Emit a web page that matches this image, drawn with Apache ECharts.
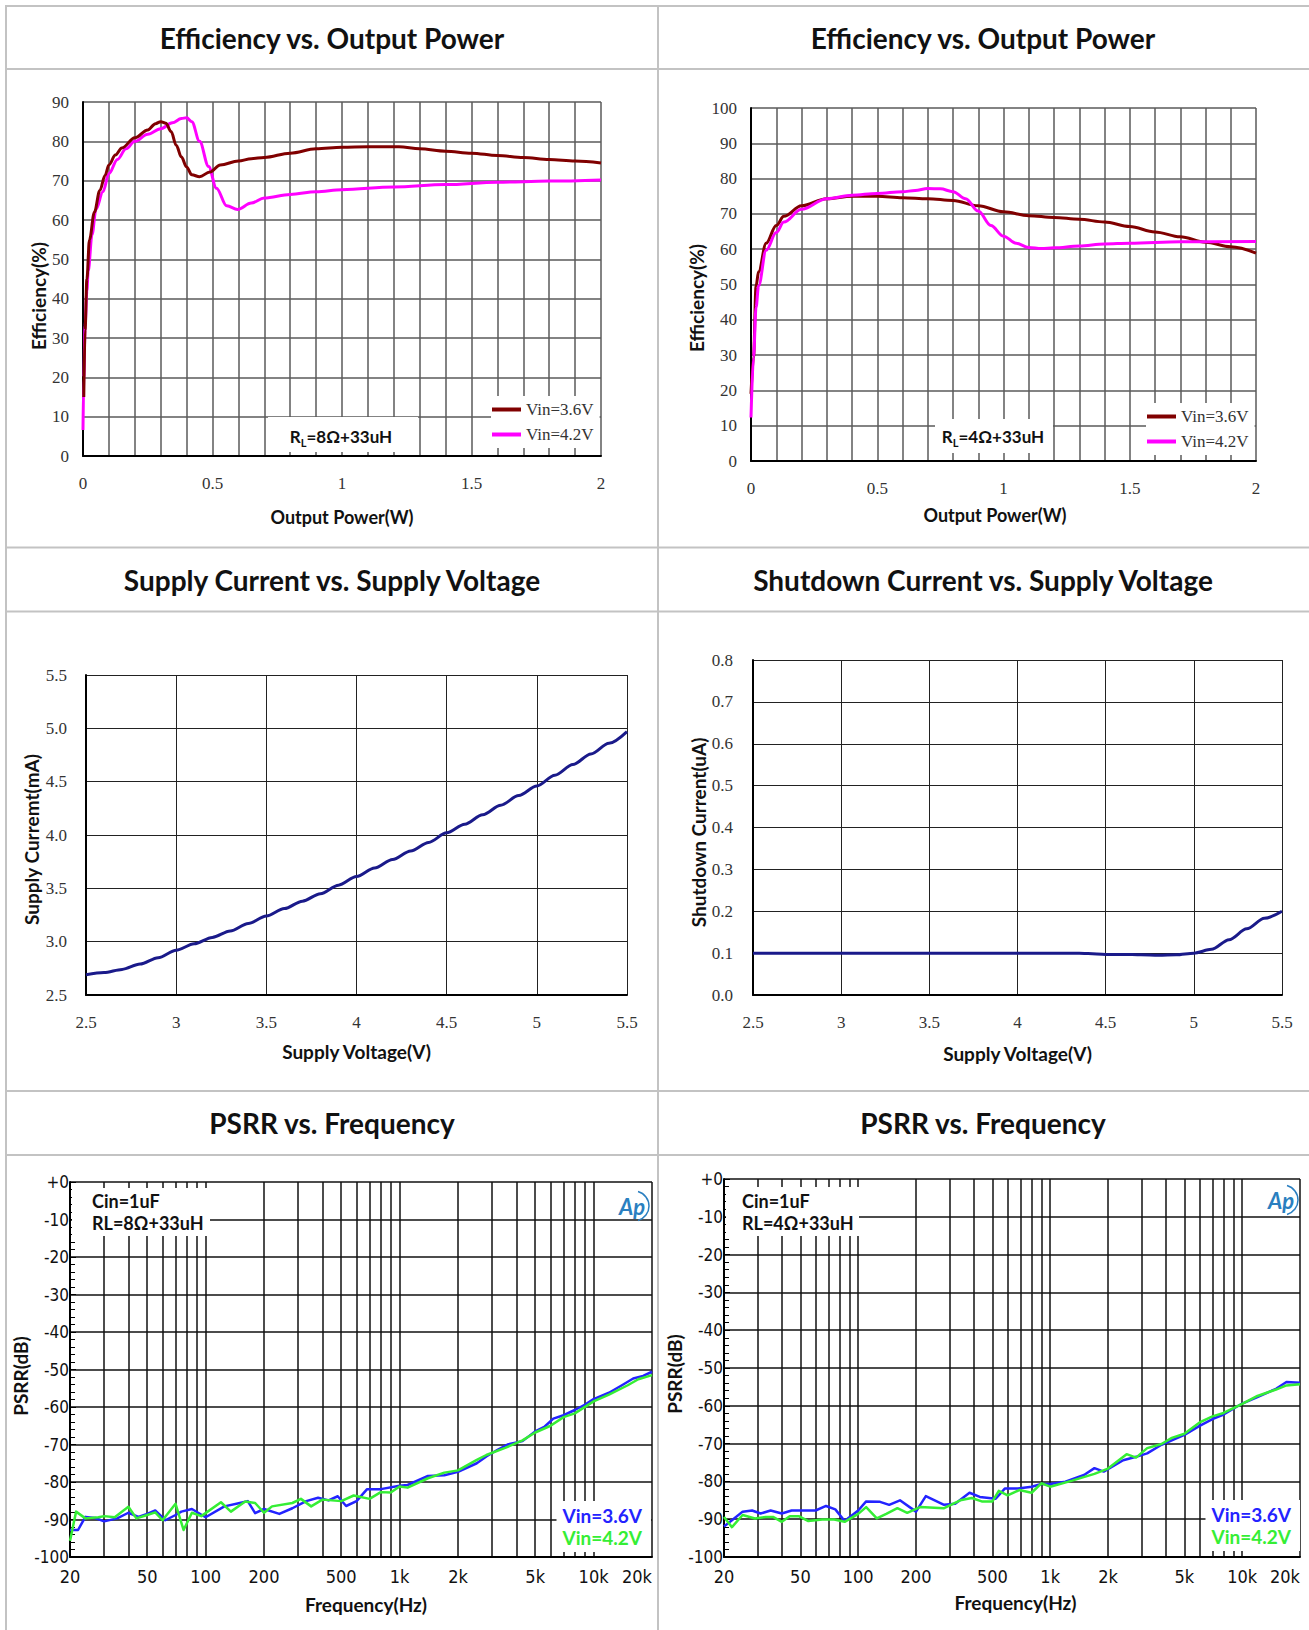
<!DOCTYPE html>
<html><head><meta charset="utf-8">
<script src="https://cdn.jsdelivr.net/npm/echarts@6/dist/echarts.min.js"></script>
<style>html,body{margin:0;padding:0;background:#fff;}#c{width:1309px;height:1630px;}</style>
</head><body><div id="c"></div>
<script>
// ---------- DATA ----------
// Efficiency vs Output Power, RL = 8ohm + 33uH
const eff8Power36 = [0.003,0.008,0.015,0.025,0.044,0.065,0.085,0.1,0.125,0.15,0.2,0.25,0.28,0.3,0.32,0.34,0.36,0.38,0.4,0.42,0.45,0.49,0.53,0.6,0.65,0.7,0.8,0.9,1.0,1.1,1.22,1.3,1.4,1.5,1.6,1.7,1.8,1.9,2.0];
const eff8Vin36   = [15,32,45,55,62,67.5,71.3,74,76.5,78.3,80.9,82.9,84.5,85.0,84.6,82.5,79,76,73.5,71.5,71.0,72.2,74.0,75.0,75.6,75.9,77.0,78.1,78.5,78.6,78.6,78.1,77.5,77.0,76.4,75.9,75.4,75.0,74.5];
const eff8Power42 = [0.0,0.003,0.008,0.015,0.02,0.035,0.05,0.077,0.1,0.133,0.166,0.2,0.25,0.3,0.345,0.38,0.4,0.42,0.45,0.485,0.515,0.555,0.597,0.65,0.7,0.8,0.9,1.0,1.2,1.4,1.6,1.8,2.0];
const eff8Vin42   = [6.6,20,33,42,47,56.3,62.7,67.2,71.8,75.4,78.1,80.0,81.8,83.2,84.7,85.8,86.0,85.0,80.0,73.6,68.1,63.6,62.7,64.3,65.6,66.5,67.2,67.7,68.4,69.0,69.6,69.9,70.2];
// Efficiency vs Output Power, RL = 4ohm + 33uH
const eff4Power36 = [0.0,0.01,0.02,0.03,0.06,0.1,0.13,0.2,0.3,0.4,0.5,0.6,0.7,0.8,0.9,1.0,1.1,1.2,1.3,1.4,1.5,1.6,1.7,1.8,1.9,2.0];
const eff4Vin36   = [19,29.4,49.6,53.6,61.7,66.7,69.3,72.3,74.3,75.0,75.0,74.6,74.3,73.8,72.3,70.6,69.5,69.0,68.5,67.7,66.4,64.9,63.5,62.0,60.7,58.9];
const eff4Power42 = [0.0,0.01,0.02,0.03,0.06,0.1,0.13,0.2,0.3,0.4,0.5,0.6,0.65,0.7,0.75,0.8,0.85,0.9,0.95,1.0,1.05,1.1,1.15,1.2,1.3,1.4,1.5,1.7,2.0];
const eff4Vin42   = [12.3,29.4,43.5,49.6,59.7,64.7,67.7,71.3,74.3,75.3,75.8,76.3,76.6,77.2,77.1,76.3,74.3,70.8,66.7,63.7,61.7,60.5,60.2,60.4,60.9,61.5,61.7,62.1,62.2];
// Supply current vs supply voltage
const supplyVoltage = [2.5,2.6,2.7,2.8,2.9,3.0,3.1,3.2,3.3,3.4,3.5,3.6,3.7,3.8,3.9,4.0,4.1,4.2,4.3,4.4,4.5,4.6,4.7,4.8,4.9,5.0,5.1,5.2,5.3,5.4,5.5];
const supplyCurrent = [2.69,2.71,2.74,2.79,2.85,2.92,2.98,3.04,3.10,3.17,3.24,3.31,3.38,3.45,3.53,3.61,3.69,3.77,3.85,3.93,4.02,4.10,4.19,4.28,4.37,4.46,4.56,4.66,4.76,4.86,4.97];
// Shutdown current vs supply voltage
const shutdownVoltage = [2.5,3.0,3.5,4.0,4.2,4.3,4.4,4.5,4.6,4.7,4.8,4.9,5.0,5.1,5.2,5.3,5.4,5.5];
const shutdownCurrent = [0.1,0.1,0.1,0.1,0.1,0.1,0.099,0.097,0.097,0.096,0.095,0.096,0.1,0.109,0.132,0.158,0.183,0.2];
// PSRR vs frequency, RL = 8ohm + 33uH
const psrr8FreqA = [20,22,24,27,30,35,40,45,50,55,62,70,75,85,100,125,150,165,180,200,240,280,330,380,430,480,530,600,680,800,1000,1100,1400,1700,2000,2500,2800,3200,3600,4300,5000,5600,6200,7000,8000,9000,10000,12000,14000,16000,18000,20000];
const psrr8Vin36 = [-92.8,-92.8,-89.3,-89.6,-90.5,-89.7,-88.2,-89.3,-88.5,-87.6,-90.2,-88.8,-87.9,-87.2,-89.4,-86.5,-85.6,-85.1,-88.3,-87.2,-88.5,-87.0,-85.1,-84.2,-84.9,-83.8,-86.4,-85.1,-81.9,-81.9,-81.0,-80.8,-78.4,-78.2,-77.3,-75.0,-73.2,-71.4,-70.0,-69.1,-66.5,-65.2,-63.1,-62.2,-60.8,-59.4,-57.9,-56.2,-54.2,-52.4,-51.7,-50.6];
const psrr8FreqB = [20,21.5,24,28,30,34,40,44,50,55,60,70,77,85,95,120,135,160,180,200,220,280,310,350,400,500,580,700,800,900,1000,1100,1400,1700,2000,2500,2800,3500,4300,5000,6000,7000,8000,10000,12000,15000,17000,20000];
const psrr8Vin42 = [-95.7,-87.9,-89.7,-89.4,-89.1,-89.4,-86.6,-89.7,-88.8,-88.1,-90.2,-85.8,-92.8,-88.2,-89.1,-85.4,-87.9,-85.2,-85.6,-88.2,-86.5,-85.6,-84.5,-86.5,-84.7,-85.1,-83.6,-84.5,-82.7,-82.8,-81.2,-81.5,-79.0,-77.5,-76.9,-74.1,-72.8,-70.9,-68.9,-66.8,-65.0,-62.7,-61.7,-58.5,-56.7,-54.2,-52.6,-51.5];
// PSRR vs frequency, RL = 4ohm + 33uH
const psrr4FreqA = [20,22,25,28,31,35,40,45,60,68,76,85,100,110,130,145,165,200,225,280,320,380,430,520,580,680,800,900,1000,1200,1500,1700,1900,2400,2800,3200,3800,5000,6000,7000,8000,10000,12000,15000,17000,20000];
const psrr4Vin36 = [-91.9,-90.3,-88.0,-87.7,-88.5,-87.7,-88.5,-87.7,-87.7,-86.5,-87.4,-90.5,-87.7,-85.3,-85.4,-86.2,-85.0,-88.0,-83.9,-86.2,-85.9,-83.0,-84.1,-84.6,-81.9,-81.9,-81.4,-80.7,-80.7,-80.1,-78.3,-76.5,-77.4,-74.4,-73.5,-72.6,-70.3,-67.7,-65.3,-63.5,-62.3,-59.4,-57.7,-55.5,-53.7,-53.9];
const psrr4FreqB = [20,22,25,29,33,36,40,44,49,55,65,75,85,100,110,125,140,160,180,210,280,340,390,440,500,540,600,690,800,900,1000,1300,1700,2000,2500,2800,3200,3800,4300,5000,6000,7000,8000,10000,12000,15000,17000,20000];
const psrr4Vin42 = [-89.4,-92.1,-88.9,-89.8,-89.4,-89.4,-90.7,-89.2,-89.2,-90.5,-90.1,-90.1,-90.7,-88.6,-86.8,-89.8,-88.6,-87.1,-88.3,-86.8,-87.1,-85.0,-84.4,-85.3,-85.3,-82.5,-83.7,-82.3,-83.0,-80.5,-81.4,-79.8,-78.0,-76.6,-72.8,-73.7,-71.2,-70.1,-68.5,-67.4,-64.4,-62.8,-61.9,-59.5,-57.4,-55.7,-54.6,-54.3];
// Tick values
const psrrFreqLabels = [20,50,100,200,500,1000,2000,5000,10000,20000];
const psrrFreqGrid = [20,30,40,50,60,70,80,90,100,200,300,400,500,600,700,800,900,1000,2000,3000,4000,5000,6000,7000,8000,9000,10000,20000];
const chartTitles = ['Efficiency vs. Output Power','Efficiency vs. Output Power','Supply Current vs. Supply Voltage','Shutdown Current vs. Supply Voltage','PSRR vs. Frequency','PSRR vs. Frequency'];

// ---------- STYLE ----------
const SANS = 'Lato, "Open Sans", "DejaVu Sans", sans-serif';
const SERIF = '"Liberation Serif", "Times New Roman", serif';
const NARROW = '"Liberation Sans Narrow", "DejaVu Sans Condensed", "Liberation Sans", sans-serif';
const zip = (xs, ys) => xs.map((x, i) => [x, ys[i]]);
const nameStyle = (size, pad) => ({fontFamily: SANS, fontWeight: 'bold', fontSize: size, color: '#111', padding: pad || 0});

const chart = echarts.init(document.getElementById('c'), null, {renderer: 'svg'});

const grids = [
  {left: 83, top: 102, width: 518, height: 354},
  {left: 751, top: 108, width: 505, height: 353},
  {left: 86, top: 675, width: 541, height: 320},
  {left: 753, top: 660, width: 529, height: 335},
  {left: 70, top: 1182, width: 582, height: 375},
  {left: 724, top: 1179, width: 576, height: 378}
].map(g => Object.assign({containLabel: false, outerBoundsMode: 'none'}, g));

function effX(gi, gap, pad) {
  return {gridIndex: gi, type: 'value', min: 0, max: 2, interval: 0.1,
    axisLine: {show: true, onZero: false, lineStyle: {color: '#000', width: 2}},
    axisTick: {show: false},
    axisLabel: {margin: 19, fontFamily: SERIF, fontSize: 17, color: '#333',
      formatter: v => { const r = Math.round(v * 10) / 10; return Math.abs(r * 2 - Math.round(r * 2)) < 1e-6 ? String(r) : ''; }},
    splitLine: {show: true, lineStyle: {color: '#5a5a5a', width: 1.5}},
    name: 'Output Power(W)', nameLocation: 'middle', nameGap: gap, nameTextStyle: nameStyle(18, pad)};
}
function effY(gi, max, gap, pad) {
  return {gridIndex: gi, type: 'value', min: 0, max: max, interval: 10,
    axisLine: {show: true, onZero: false, lineStyle: {color: '#000', width: 2}},
    axisTick: {show: false},
    axisLabel: {margin: 14, fontFamily: SERIF, fontSize: 17, color: '#333'},
    splitLine: {show: true, lineStyle: {color: '#5a5a5a', width: 1.5}},
    name: 'Efficiency(%)', nameLocation: 'middle', nameGap: gap, nameTextStyle: nameStyle(19, pad)};
}
function voltX(gi, gap) {
  return {gridIndex: gi, type: 'value', min: 2.5, max: 5.5, interval: 0.5,
    axisLine: {show: true, onZero: false, lineStyle: {color: '#000', width: 2}},
    axisTick: {show: false},
    axisLabel: {margin: 19, fontFamily: SERIF, fontSize: 17, color: '#333'},
    splitLine: {show: true, lineStyle: {color: '#222', width: 1}},
    name: 'Supply Voltage(V)', nameLocation: 'middle', nameGap: gap, nameTextStyle: nameStyle(19)};
}
function psrrX(gi, gap, pad) {
  return {gridIndex: gi, type: 'log', logBase: 10, min: 20, max: 20000,
    axisLine: {show: true, onZero: false, lineStyle: {color: '#000', width: 2}},
    axisTick: {show: false, customValues: psrrFreqGrid},
    axisLabel: {margin: 10, fontFamily: NARROW, fontSize: 18, color: '#111', customValues: psrrFreqLabels,
      alignMaxLabel: 'right', formatter: v => v >= 1000 ? (v / 1000) + 'k' : String(v)},
    splitLine: {show: true, lineStyle: {color: '#111', width: 1.5}},
    name: 'Frequency(Hz)', nameLocation: 'middle', nameGap: gap, nameTextStyle: nameStyle(19, pad)};
}
function psrrY(gi, gap, pad) {
  return {gridIndex: gi, type: 'value', min: -100, max: 0, interval: 10,
    axisLine: {show: true, onZero: false, lineStyle: {color: '#000', width: 2}},
    axisTick: {show: true, inside: true, length: 6, lineStyle: {color: '#000', width: 1}},
    minorTick: {show: true, splitNumber: 5, length: 5, lineStyle: {color: '#000', width: 1}},
    axisLabel: {margin: 1, fontFamily: NARROW, fontSize: 17, color: '#111', formatter: v => v === 0 ? '+0' : String(v)},
    splitLine: {show: true, lineStyle: {color: '#111', width: 1.5}},
    name: 'PSRR(dB)', nameLocation: 'middle', nameGap: gap, nameTextStyle: nameStyle(19, pad)};
}

const xAxes = [
  effX(0, 52, 0),
  effX(1, 45, [0, 17, 0, 0]),
  voltX(2, 47),
  voltX(3, 49),
  psrrX(4, 38, [0, 0, 0, 10]),
  psrrX(5, 36, [0, 0, 0, 7])
];
const yAxes = [
  effY(0, 90, 35, [0, 34, 0, 0]),
  effY(1, 100, 45, [0, 27, 0, 0]),
  {gridIndex: 2, type: 'value', min: 2.5, max: 5.5, interval: 0.5,
    axisLine: {show: true, onZero: false, lineStyle: {color: '#000', width: 2}}, axisTick: {show: false},
    axisLabel: {margin: 19, fontFamily: SERIF, fontSize: 17, color: '#333', formatter: v => v.toFixed(1)},
    splitLine: {show: true, lineStyle: {color: '#222', width: 1}},
    name: 'Supply Curremt(mA)', nameLocation: 'middle', nameGap: 45, nameTextStyle: nameStyle(19, [0, 9, 0, 0])},
  {gridIndex: 3, type: 'value', min: 0, max: 0.8, interval: 0.1,
    axisLine: {show: true, onZero: false, lineStyle: {color: '#000', width: 2}}, axisTick: {show: false},
    axisLabel: {margin: 20, fontFamily: SERIF, fontSize: 17, color: '#333', formatter: v => v.toFixed(1)},
    splitLine: {show: true, lineStyle: {color: '#222', width: 1}},
    name: 'Shutdown Current(uA)', nameLocation: 'middle', nameGap: 45, nameTextStyle: nameStyle(19, [0, 10, 0, 0])},
  psrrY(4, 29, [0, 13, 0, 0]),
  psrrY(5, 31, [0, 12, 0, 0])
];

const RED = '#800000', MAG = '#ff00ff', NAVY = '#1a1a8a', BLUE = '#2323ff', GREEN = '#35ee35';
function lineSeries(name, gi, data, color, width, smooth) {
  return {type: 'line', name: name, xAxisIndex: gi, yAxisIndex: gi, data: data, symbol: 'none',
    smooth: smooth, smoothMonotone: smooth ? 'x' : undefined,
    lineStyle: {color: color, width: width, join: 'round'}, itemStyle: {color: color}, z: 3};
}
const series = [
  lineSeries('Vin=4.2V', 0, zip(eff8Power42, eff8Vin42), MAG, 3, 0.35),
  lineSeries('Vin=3.6V', 0, zip(eff8Power36, eff8Vin36), RED, 3, 0.35),
  lineSeries('Vin=3.6V', 1, zip(eff4Power36, eff4Vin36), RED, 3, 0.35),
  lineSeries('Vin=4.2V', 1, zip(eff4Power42, eff4Vin42), MAG, 3, 0.35),
  lineSeries('Supply Current', 2, zip(supplyVoltage, supplyCurrent), NAVY, 3, 0.3),
  lineSeries('Shutdown Current', 3, zip(shutdownVoltage, shutdownCurrent), NAVY, 3, 0.3),
  lineSeries('Vin=3.6V (8Ω)', 4, zip(psrr8FreqA, psrr8Vin36), BLUE, 2.5, false),
  lineSeries('Vin=4.2V (8Ω)', 4, zip(psrr8FreqB, psrr8Vin42), GREEN, 2.5, false),
  lineSeries('Vin=3.6V (4Ω)', 5, zip(psrr4FreqA, psrr4Vin36), BLUE, 2.5, false),
  lineSeries('Vin=4.2V (4Ω)', 5, zip(psrr4FreqB, psrr4Vin42), GREEN, 2.5, false)
];

function effLegend(left, top) {
  return {data: ['Vin=3.6V', 'Vin=4.2V'], left: left, top: top, orient: 'vertical', icon: 'rect',
    itemWidth: 29, itemHeight: 4, itemGap: 8, padding: [5, 6, 5, 1], backgroundColor: '#fff',
    selectedMode: false, textStyle: {fontFamily: SERIF, fontSize: 17, color: '#333'}};
}
function psrrLegend(right, top, tag) {
  return {data: [{name: 'Vin=3.6V (' + tag + ')', textStyle: {color: BLUE}}, {name: 'Vin=4.2V (' + tag + ')', textStyle: {color: GREEN}}],
    right: right, top: top, orient: 'vertical', icon: 'none', itemWidth: 0, itemHeight: 10, itemGap: 1,
    padding: [4, 9, 4, 1], backgroundColor: '#fff', selectedMode: false,
    formatter: n => n.split(' ')[0],
    textStyle: {fontFamily: SANS, fontWeight: 'bold', fontSize: 19, lineHeight: 21}};
}

const titleCenters = [[332, 38], [983, 38], [332, 580], [983, 580], [332, 1123], [983, 1123]];
const titles = chartTitles.map((t, i) => ({text: t, left: titleCenters[i][0], top: titleCenters[i][1],
  textAlign: 'center', textVerticalAlign: 'middle', padding: 0,
  textStyle: {fontFamily: SANS, fontWeight: 'bold', fontSize: 28, color: '#111'}}));

// table borders
const BORDER = {stroke: '#c3c3c3', lineWidth: 2};
const hLines = [6, 69, 547.5, 611.5, 1091, 1155];
const vLines = [6, 658];
const graphic = [];
hLines.forEach(y => graphic.push({type: 'line', shape: {x1: 5, y1: y, x2: 1309, y2: y}, style: BORDER, z: 0}));
vLines.forEach(x => graphic.push({type: 'line', shape: {x1: x, y1: 5, x2: x, y2: 1630}, style: BORDER, z: 0}));

// annotation boxes
function whiteBox(x, y, w, h) { return {type: 'rect', shape: {x: x, y: y, width: w, height: h}, style: {fill: '#fff'}, z: 1}; }
const rlRich = {a: {fontFamily: SANS, fontWeight: 'bold', fontSize: 17, fill: '#111', lineHeight: 24, verticalAlign: 'middle'},
                s: {fontFamily: SANS, fontWeight: 'bold', fontSize: 11, fill: '#111', lineHeight: 12, verticalAlign: 'bottom'}};
graphic.push(whiteBox(268, 417, 150, 35));
graphic.push({type: 'text', x: 341, y: 436, z: 3, style: {text: '{a|R}{s|L}{a|=8Ω+33uH}', rich: rlRich, align: 'center', verticalAlign: 'middle'}});
graphic.push(whiteBox(935, 419, 118, 34));
graphic.push({type: 'text', x: 993, y: 436, z: 3, style: {text: '{a|R}{s|L}{a|=4Ω+33uH}', rich: rlRich, align: 'center', verticalAlign: 'middle'}});

const cinStyle = {fontFamily: SANS, fontWeight: 'bold', fontSize: 18, fill: '#111', lineHeight: 22};
graphic.push(whiteBox(72, 1188, 138, 48));
graphic.push({type: 'text', x: 92, y: 1190, z: 3, style: Object.assign({text: 'Cin=1uF\nRL=8Ω+33uH'}, cinStyle)});
graphic.push(whiteBox(726, 1187, 133, 49));
graphic.push({type: 'text', x: 742, y: 1190, z: 3, style: Object.assign({text: 'Cin=1uF\nRL=4Ω+33uH'}, cinStyle)});

// Ap logos
function apLogo(cx, cy) {
  return [
    {type: 'text', x: cx - 14, y: cy, z: 3, style: {text: 'Ap', fontFamily: SANS, fontStyle: 'italic', fontWeight: 'bold', fontSize: 22, fill: '#2a7fc0', verticalAlign: 'middle'}},
    {type: 'arc', z: 3, shape: {cx: cx + 1, cy: cy, r: 15, startAngle: -1.3, endAngle: 1.3}, style: {stroke: '#2a7fc0', lineWidth: 1.5, fill: 'none'}}
  ];
}
graphic.push(...apLogo(633, 1206));
graphic.push(...apLogo(1282, 1200));

chart.setOption({
  animation: false,
  backgroundColor: '#fff',
  title: titles,
  grid: grids,
  xAxis: xAxes,
  yAxis: yAxes,
  legend: [effLegend(491, 396), effLegend(1146, 403), psrrLegend(1309 - 651, 1501, '8Ω'), psrrLegend(9, 1500, '4Ω')],
  series: series,
  graphic: graphic
});
</script></body></html>
